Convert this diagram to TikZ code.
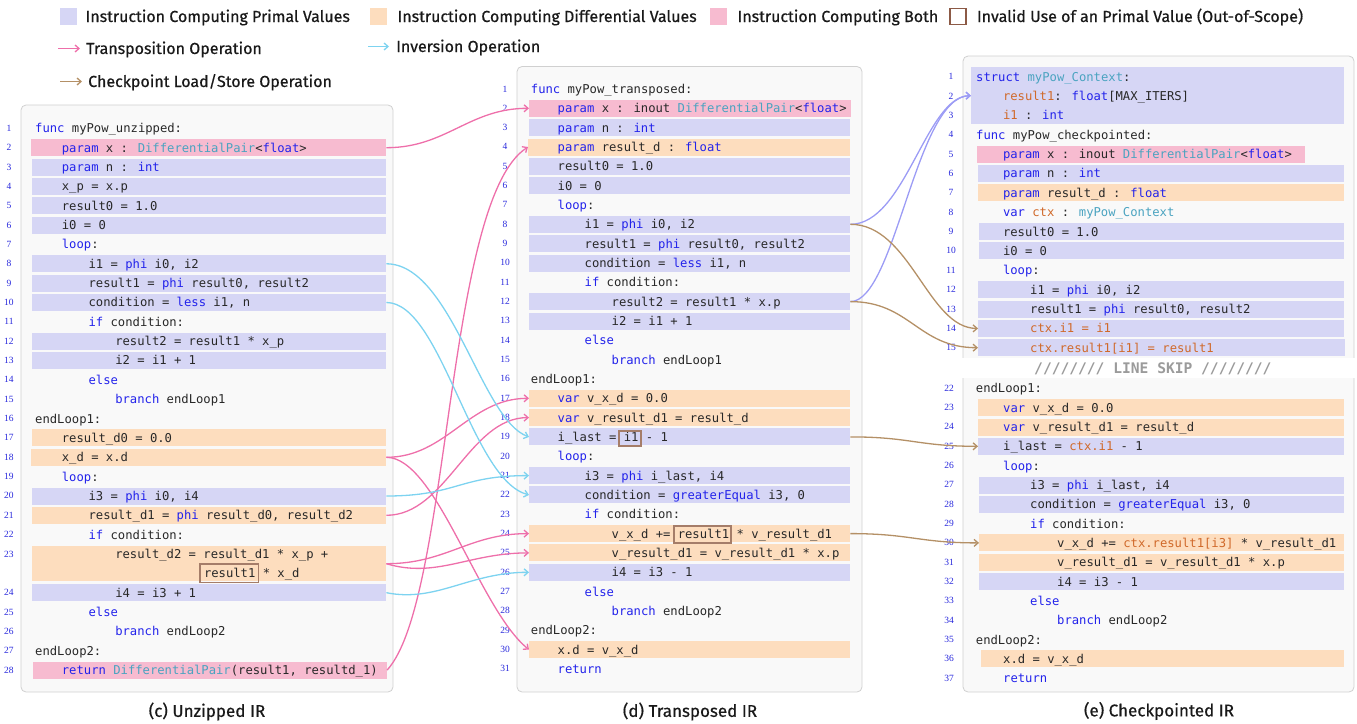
\documentclass[tikz,border=0pt]{standalone}
\usepackage{fontspec}
\usetikzlibrary{arrows.meta,positioning}
\newfontfamily\codefont{DejaVu Sans Mono}
\newfontfamily\labelfont[FakeBold=0.6]{Fira Sans}
\newfontfamily\numfont{Liberation Serif}

\definecolor{primalfill}{RGB}{214,214,245}
\definecolor{difffill}{RGB}{253,221,190}
\definecolor{bothfill}{RGB}{247,187,208}
\definecolor{panelfill}{RGB}{249,249,249}
\definecolor{paneldraw}{RGB}{208,208,208}
\definecolor{kwblue}{RGB}{35,35,235}
\definecolor{tyteal}{RGB}{74,163,192}
\definecolor{cxorange}{RGB}{208,105,42}
\definecolor{codegray}{RGB}{40,40,40}
\definecolor{lnblue}{RGB}{40,40,220}
\definecolor{transpink}{RGB}{238,111,170}
\definecolor{invcyan}{RGB}{125,211,240}
\definecolor{ckbrown}{RGB}{180,144,102}
\definecolor{storelav}{RGB}{156,156,245}
\definecolor{invalidbrown}{RGB}{165,125,105}
\definecolor{legendbrown}{RGB}{140,90,70}
\definecolor{skipgray}{RGB}{155,155,155}

\newcommand\kw[1]{\textcolor{kwblue}{#1}}
\newcommand\ty[1]{\textcolor{tyteal}{#1}}
\newcommand\cx[1]{\textcolor{cxorange}{#1}}

\tikzset{
  code/.style={anchor=west, inner sep=0pt, text height=8.9pt, text depth=0pt,
    text=codegray, font=\codefont\fontsize{12.2}{14}\selectfont},
  lnum/.style={inner sep=0pt, text height=6pt, text depth=0pt,
    text=lnblue, font=\numfont\fontsize{9.5}{10}\selectfont},
  bar/.style={anchor=west, inner sep=0pt, minimum height=17pt},
  primal/.style={bar, fill=primalfill},
  diffv/.style={bar, fill=difffill},
  both/.style={bar, fill=bothfill},
  panel/.style={draw=paneldraw, fill=panelfill, line width=0.8pt, rounded corners=5pt},
  invalid/.style={draw=invalidbrown, line width=1.6pt},
  legend/.style={anchor=west, inner sep=0pt, text height=11pt, text depth=0pt,
    text=black!90, font=\labelfont\fontsize{16}{18}\selectfont},
  caption/.style={inner sep=0pt, text height=11.7pt, text depth=0pt,
    text=black!90, font=\labelfont\fontsize{17}{19}\selectfont},
  conn/.style={line width=1.3pt, -{Straight Barb[length=4pt,width=7pt]}},
  trans/.style={conn, draw=transpink},
  inv/.style={conn, draw=invcyan},
  ckpt/.style={conn, draw=ckbrown},
  store/.style={conn, draw=storelav},
}

\begin{document}
\begin{tikzpicture}[x=1pt,y=-1pt]
  \useasboundingbox (0,0) rectangle (1357,723);

  % legend
  \node[primal, minimum width=17pt] (lgprimal) at (60,16.5) {};
  \node[legend, right=8pt of lgprimal] (lgprimaltext) {Instruction Computing Primal Values};
  \node[diffv, minimum width=17pt] (lgdiff) at (370,16.5) {};
  \node[legend, right=10pt of lgdiff] (lgdifftext) {Instruction Computing Differential Values};
  \node[both, minimum width=17pt] (lgboth) at (710,16.5) {};
  \node[legend, right=10pt of lgboth] (lgbothtext) {Instruction Computing Both};
  \node[bar, draw=legendbrown, line width=1.8pt, fill=white, minimum width=16pt, minimum height=16pt] (lginvalid) at (949,16.5) {};
  \node[legend, right=10pt of lginvalid] (lginvalidtext) {Invalid Use of an Primal Value (Out-of-Scope)};

  \coordinate (lgtransa) at (58,48.5);
  \coordinate (lgtransb) at (80,48.5);
  \draw[trans] (lgtransa) -- (lgtransb);
  \node[legend, right=6pt of lgtransb] (lgtranstext) {Transposition Operation};
  \coordinate (lginva) at (368,46.5);
  \coordinate (lginvb) at (389,46.5);
  \draw[inv] (lginva) -- (lginvb);
  \node[legend, right=7pt of lginvb] (lginvtext) {Inversion Operation};
  \coordinate (lgckpta) at (60,81.5);
  \coordinate (lgckptb) at (82,81.5);
  \draw[ckpt] (lgckpta) -- (lgckptb);
  \node[legend, right=6pt of lgckptb] (lgckpttext) {Checkpoint Load/Store Operation};

  % panels
  \draw[panel] (21,105) rectangle (393,692);
  \draw[panel] (517,66.5) rectangle (862,692);
  \draw[panel] (963,56) rectangle (1354,692);

  % (c) unzipped
  \foreach \n in {1,...,23}
    \node[lnum] (cn\n) at (9,{128.3+19.35*(\n-1)}) {\n};
  \foreach \n in {24,...,28}
    \node[lnum] (cn\n) at (9,{128.3+19.35*\n}) {\n};

  \node[code] (c1) at (35,128.3) {\kw{func} myPow\_unzipped:};
  \node[both, minimum width=355pt] (c2) at (31,147.7) {};
  \node[code] (c2t) at (61.7,147.7) {\kw{param} x : \ty{DifferentialPair}<\kw{float}>};
  \node[primal, minimum width=354pt] (c3) at (32,167) {};
  \node[code] (c3t) at (61.7,167) {\kw{param} n : \kw{int}};
  \node[primal, minimum width=354pt] (c4) at (32,186.4) {};
  \node[code] (c4t) at (61.7,186.4) {x\_p = x.p};
  \node[primal, minimum width=354pt] (c5) at (32,205.7) {};
  \node[code] (c5t) at (61.7,205.7) {result0 = 1.0};
  \node[primal, minimum width=354pt] (c6) at (32,225.1) {};
  \node[code] (c6t) at (61.7,225.1) {i0 = 0};
  \node[code] (c7) at (61.7,244.4) {\kw{loop}:};
  \node[primal, minimum width=354pt] (c8) at (32,263.8) {};
  \node[code] (c8t) at (88.4,263.8) {i1 = \kw{phi} i0, i2};
  \node[primal, minimum width=354pt] (c9) at (32,283.1) {};
  \node[code] (c9t) at (88.4,283.1) {result1 = \kw{phi} result0, result2};
  \node[primal, minimum width=354pt] (c10) at (32,302.5) {};
  \node[code] (c10t) at (88.4,302.5) {condition = \kw{less} i1, n};
  \node[code] (c11) at (88.4,321.8) {\kw{if} condition:};
  \node[primal, minimum width=354pt] (c12) at (32,341.2) {};
  \node[code] (c12t) at (115.1,341.2) {result2 = result1 * x\_p};
  \node[primal, minimum width=354pt] (c13) at (32,360.5) {};
  \node[code] (c13t) at (115.1,360.5) {i2 = i1 + 1};
  \node[code] (c14) at (88.4,379.9) {\kw{else}};
  \node[code] (c15) at (115.1,399.2) {\kw{branch} endLoop1};
  \node[code] (c16) at (35,418.6) {endLoop1:};
  \node[diffv, minimum width=354pt] (c17) at (32,437.9) {};
  \node[code] (c17t) at (61.7,437.9) {result\_d0 = 0.0};
  \node[diffv, minimum width=355pt] (c18) at (31,457.3) {};
  \node[code] (c18t) at (61.7,457.3) {x\_d = x.d};
  \node[code] (c19) at (61.7,476.6) {\kw{loop}:};
  \node[primal, minimum width=354pt] (c20) at (32,496) {};
  \node[code] (c20t) at (88.4,496) {i3 = \kw{phi} i0, i4};
  \node[diffv, minimum width=354pt] (c21) at (32,515.3) {};
  \node[code] (c21t) at (88.4,515.3) {result\_d1 = \kw{phi} result\_d0, result\_d2};
  \node[code] (c22) at (88.4,534.7) {\kw{if} condition:};
  \node[diffv, minimum width=354pt, minimum height=35pt] (c23) at (32,563.7) {};
  \node[code] (c23t) at (115.1,554) {result\_d2 = result\_d1 * x\_p +};
  \node[code] (c23u) at (203.8,573.4) {result1 * x\_d};
  \node[primal, minimum width=354pt] (c24) at (32,592.7) {};
  \node[code] (c24t) at (115.1,592.7) {i4 = i3 + 1};
  \node[code] (c25) at (88.4,612.1) {\kw{else}};
  \node[code] (c26) at (115.1,631.4) {\kw{branch} endLoop2};
  \node[code] (c27) at (35,650.8) {endLoop2:};
  \node[both, minimum width=354pt] (c28) at (32.7,670.1) {};
  \node[code] (c28t) at (61.7,670.1) {\kw{return} \ty{DifferentialPair}(result1, resultd\_1)};
  \draw[invalid] (200,564) rectangle (258.5,582.5);

  % (d) transposed
  \foreach \n in {1,...,31}
    \node[lnum] (dn\n) at (505,{89+19.33*(\n-1)}) {\n};

  \node[code] (d1) at (530.7,89) {\kw{func} myPow\_transposed:};
  \node[both, minimum width=322pt] (d2) at (529,108.3) {};
  \node[code] (d2t) at (557.5,108.3) {\kw{param} x : inout \ty{DifferentialPair}<\kw{float}>};
  \node[primal, minimum width=321pt] (d3) at (529,127.7) {};
  \node[code] (d3t) at (557.5,127.7) {\kw{param} n : \kw{int}};
  \node[diffv, minimum width=322pt] (d4) at (528,147) {};
  \node[code] (d4t) at (557.5,147) {\kw{param} result\_d : \kw{float}};
  \node[primal, minimum width=321pt] (d5) at (529,166.3) {};
  \node[code] (d5t) at (557.5,166.3) {result0 = 1.0};
  \node[primal, minimum width=321pt] (d6) at (529,185.7) {};
  \node[code] (d6t) at (557.5,185.7) {i0 = 0};
  \node[code] (d7) at (557.5,205) {\kw{loop}:};
  \node[primal, minimum width=321pt] (d8) at (529,224.3) {};
  \node[code] (d8t) at (584.5,224.3) {i1 = \kw{phi} i0, i2};
  \node[primal, minimum width=321pt] (d9) at (529,243.6) {};
  \node[code] (d9t) at (584.5,243.6) {result1 = \kw{phi} result0, result2};
  \node[primal, minimum width=321pt] (d10) at (529,263) {};
  \node[code] (d10t) at (584.5,263) {condition = \kw{less} i1, n};
  \node[code] (d11) at (584.5,282.3) {\kw{if} condition:};
  \node[primal, minimum width=321pt] (d12) at (529,301.6) {};
  \node[code] (d12t) at (611.5,301.6) {result2 = result1 * x.p};
  \node[primal, minimum width=321pt] (d13) at (529,321) {};
  \node[code] (d13t) at (611.5,321) {i2 = i1 + 1};
  \node[code] (d14) at (584.5,340.3) {\kw{else}};
  \node[code] (d15) at (611.5,359.6) {\kw{branch} endLoop1};
  \node[code] (d16) at (530.7,379) {endLoop1:};
  \node[diffv, minimum width=321pt] (d17) at (529,398.3) {};
  \node[code] (d17t) at (557.5,398.3) {\kw{var} v\_x\_d = 0.0};
  \node[diffv, minimum width=321pt] (d18) at (529,417.6) {};
  \node[code] (d18t) at (557.5,417.6) {\kw{var} v\_result\_d1 = result\_d};
  \node[primal, minimum width=321pt] (d19) at (529,436.9) {};
  \node[code] (d19t) at (557.5,436.9) {i\_last = i1 - 1};
  \node[code] (d20) at (557.5,456.3) {\kw{loop}:};
  \node[primal, minimum width=321pt] (d21) at (529,475.6) {};
  \node[code] (d21t) at (584.5,475.6) {i3 = \kw{phi} i\_last, i4};
  \node[primal, minimum width=321pt] (d22) at (529,494.9) {};
  \node[code] (d22t) at (584.5,494.9) {condition = \kw{greaterEqual} i3, 0};
  \node[code] (d23) at (584.5,514.3) {\kw{if} condition:};
  \node[diffv, minimum width=321pt] (d24) at (529,533.6) {};
  \node[code] (d24t) at (611.5,533.6) {v\_x\_d += result1 * v\_result\_d1};
  \node[diffv, minimum width=321pt] (d25) at (529,552.9) {};
  \node[code] (d25t) at (611.5,552.9) {v\_result\_d1 = v\_result\_d1 * x.p};
  \node[primal, minimum width=321pt] (d26) at (529,572.3) {};
  \node[code] (d26t) at (611.5,572.3) {i4 = i3 - 1};
  \node[code] (d27) at (584.5,591.6) {\kw{else}};
  \node[code] (d28) at (611.5,610.9) {\kw{branch} endLoop2};
  \node[code] (d29) at (530.7,630.2) {endLoop2:};
  \node[diffv, minimum width=321pt] (d30) at (529,649.6) {};
  \node[code] (d30t) at (557.5,649.6) {x.d = v\_x\_d};
  \node[code] (d31) at (557.5,668.9) {\kw{return}};
  \draw[invalid] (619,431) rectangle (641,446);
  \draw[invalid] (674,526) rectangle (731,542.7);

  % (e) checkpointed
  \foreach \n in {1,...,15}
    \node[lnum] (en\n) at (951,{76.7+19.36*(\n-1)}) {\n};

  \node[primal, minimum width=373pt, minimum height=57pt] (e1) at (971,95.7) {};
  \node[code] (e1t) at (976,76.7) {\kw{struct} \ty{myPow\_Context}:};
  \node[code] (e2t) at (1002.8,96.1) {\cx{result1}: \kw{float}[MAX\_ITERS]};
  \node[code] (e3t) at (1002.8,115.4) {\cx{i1} : \kw{int}};
  \node[code] (e4) at (976,134.8) {\kw{func} myPow\_checkpointed:};
  \node[both, minimum width=328pt] (e5) at (977,154.1) {};
  \node[code] (e5t) at (1002.8,154.1) {\kw{param} x : inout \ty{DifferentialPair}<\kw{float}>};
  \node[primal, minimum width=366pt] (e6) at (978,173.5) {};
  \node[code] (e6t) at (1002.8,173.5) {\kw{param} n : \kw{int}};
  \node[diffv, minimum width=366pt] (e7) at (978,192.9) {};
  \node[code] (e7t) at (1002.8,192.9) {\kw{param} result\_d : \kw{float}};
  \node[code] (e8) at (1002.8,212.2) {\kw{var} \cx{ctx} : \ty{myPow\_Context}};
  \node[primal, minimum width=365pt] (e9) at (979,231.6) {};
  \node[code] (e9t) at (1002.8,231.6) {result0 = 1.0};
  \node[primal, minimum width=365pt] (e10) at (979,250.9) {};
  \node[code] (e10t) at (1002.8,250.9) {i0 = 0};
  \node[code] (e11) at (1002.8,270.3) {\kw{loop}:};
  \node[primal, minimum width=366pt] (e12) at (978,289.7) {};
  \node[code] (e12t) at (1030,289.7) {i1 = \kw{phi} i0, i2};
  \node[primal, minimum width=366pt] (e13) at (978,309) {};
  \node[code] (e13t) at (1030,309) {result1 = \kw{phi} result0, result2};
  \node[primal, minimum width=366pt] (e14) at (978,328.4) {};
  \node[code] (e14t) at (1030,328.4) {\cx{ctx.i1 = i1}};
  \node[primal, minimum width=367pt] (e15) at (978,347.7) {};
  \node[code] (e15t) at (1030,347.7) {\cx{ctx.result1[i1] = result1}};

  % line skip
  \fill[white] (955,358) rectangle (1357,377.5);
  \node[anchor=west, inner sep=0pt, text=skipgray, font=\codefont\bfseries\fontsize{14.6}{16}\selectfont] (eskip) at (1034,369) {//////// LINE SKIP ////////};

  \foreach \n in {22,...,37}
    \node[lnum] (en\n) at (949,{388.3+19.33*(\n-22)}) {\n};

  \node[code] (e22) at (975.7,388.3) {endLoop1:};
  \node[diffv, minimum width=366pt] (e23) at (978,407.6) {};
  \node[code] (e23t) at (1003,407.6) {\kw{var} v\_x\_d = 0.0};
  \node[diffv, minimum width=366pt] (e24) at (978,427) {};
  \node[code] (e24t) at (1003,427) {\kw{var} v\_result\_d1 = result\_d};
  \node[primal, minimum width=366pt] (e25) at (978,446.3) {};
  \node[code] (e25t) at (1003,446.3) {i\_last = \cx{ctx.i1} - 1};
  \node[code] (e26) at (1003,465.6) {\kw{loop}:};
  \node[primal, minimum width=365pt] (e27) at (979,485) {};
  \node[code] (e27t) at (1030,485) {i3 = \kw{phi} i\_last, i4};
  \node[primal, minimum width=365pt] (e28) at (979,504.3) {};
  \node[code] (e28t) at (1030,504.3) {condition = \kw{greaterEqual} i3, 0};
  \node[code] (e29) at (1030,523.6) {\kw{if} condition:};
  \node[diffv, minimum width=365pt] (e30) at (979,542.9) {};
  \node[code] (e30t) at (1057,542.9) {v\_x\_d += \cx{ctx.result1[i3]} * v\_result\_d1};
  \node[diffv, minimum width=365pt] (e31) at (979,562.3) {};
  \node[code] (e31t) at (1057,562.3) {v\_result\_d1 = v\_result\_d1 * x.p};
  \node[primal, minimum width=365pt] (e32) at (979,581.6) {};
  \node[code] (e32t) at (1057,581.6) {i4 = i3 - 1};
  \node[code] (e33) at (1030,600.9) {\kw{else}};
  \node[code] (e34) at (1057,620.3) {\kw{branch} endLoop2};
  \node[code] (e35) at (975.7,639.6) {endLoop2:};
  \node[diffv, minimum width=363pt] (e36) at (981,658.9) {};
  \node[code] (e36t) at (1003,658.9) {x.d = v\_x\_d};
  \node[code] (e37) at (1003,678.3) {\kw{return}};

  % transposition
  \draw[trans] (c2.east) .. controls +(60,0) and +(-60,0) .. (d2.west);
  \draw[trans] (c28.east) .. controls +(64,-70) and +(-83,53) .. (d4.west);
  \draw[trans] (c18.east) .. controls +(60,0) and +(-60,0) .. (d17.west);
  \draw[trans] (c18.east) .. controls +(50,0) and +(-50,-40) .. (d30.west);
  \draw[trans] (c21.east) .. controls +(60,0) and +(-60,0) .. (d18.west);
  \draw[trans] (c23.east) .. controls +(60,0) and +(-60,0) .. (d24.west);
  \draw[trans] (c23.east) .. controls +(50,15) and +(-60,0) .. (d25.west);

  % inversion
  \draw[inv] (c8.east) .. controls +(65,0) and +(-48,-17) .. (d19.west);
  \draw[inv] (c10.east) .. controls +(55,0) and +(-58,-15) .. (d22.west);
  \draw[inv] (c20.east) .. controls +(70,0) and +(-70,0) .. (d21.west);
  \draw[inv] (c24.east) .. controls +(50,10) and +(-60,0) .. (d26.west);

  % checkpoint load/store
  \draw[store] (d8.east) .. controls +(55,0) and +(-45,0) .. (e1.west);
  \draw[store] (d12.east) .. controls +(45,0) and +(-55,0) .. (e1.west);
  \draw[ckpt] (d8.east) .. controls +(60,0) and +(-50,0) .. (e14.west);
  \draw[ckpt] (d12.east) .. controls +(60,0) and +(-60,0) .. (e15.west);
  \draw[ckpt] (d19.east) .. controls +(60,0) and +(-60,0) .. (e25.west);
  \draw[ckpt] (d24.east) .. controls +(60,0) and +(-60,0) .. (e30.west);

  % captions
  \node[caption] (ccap) at (207,711) {(c) Unzipped IR};
  \node[caption] (dcap) at (690,711) {(d) Transposed IR};
  \node[caption] (ecap) at (1159,710.5) {(e) Checkpointed IR};
\end{tikzpicture}
\end{document}
